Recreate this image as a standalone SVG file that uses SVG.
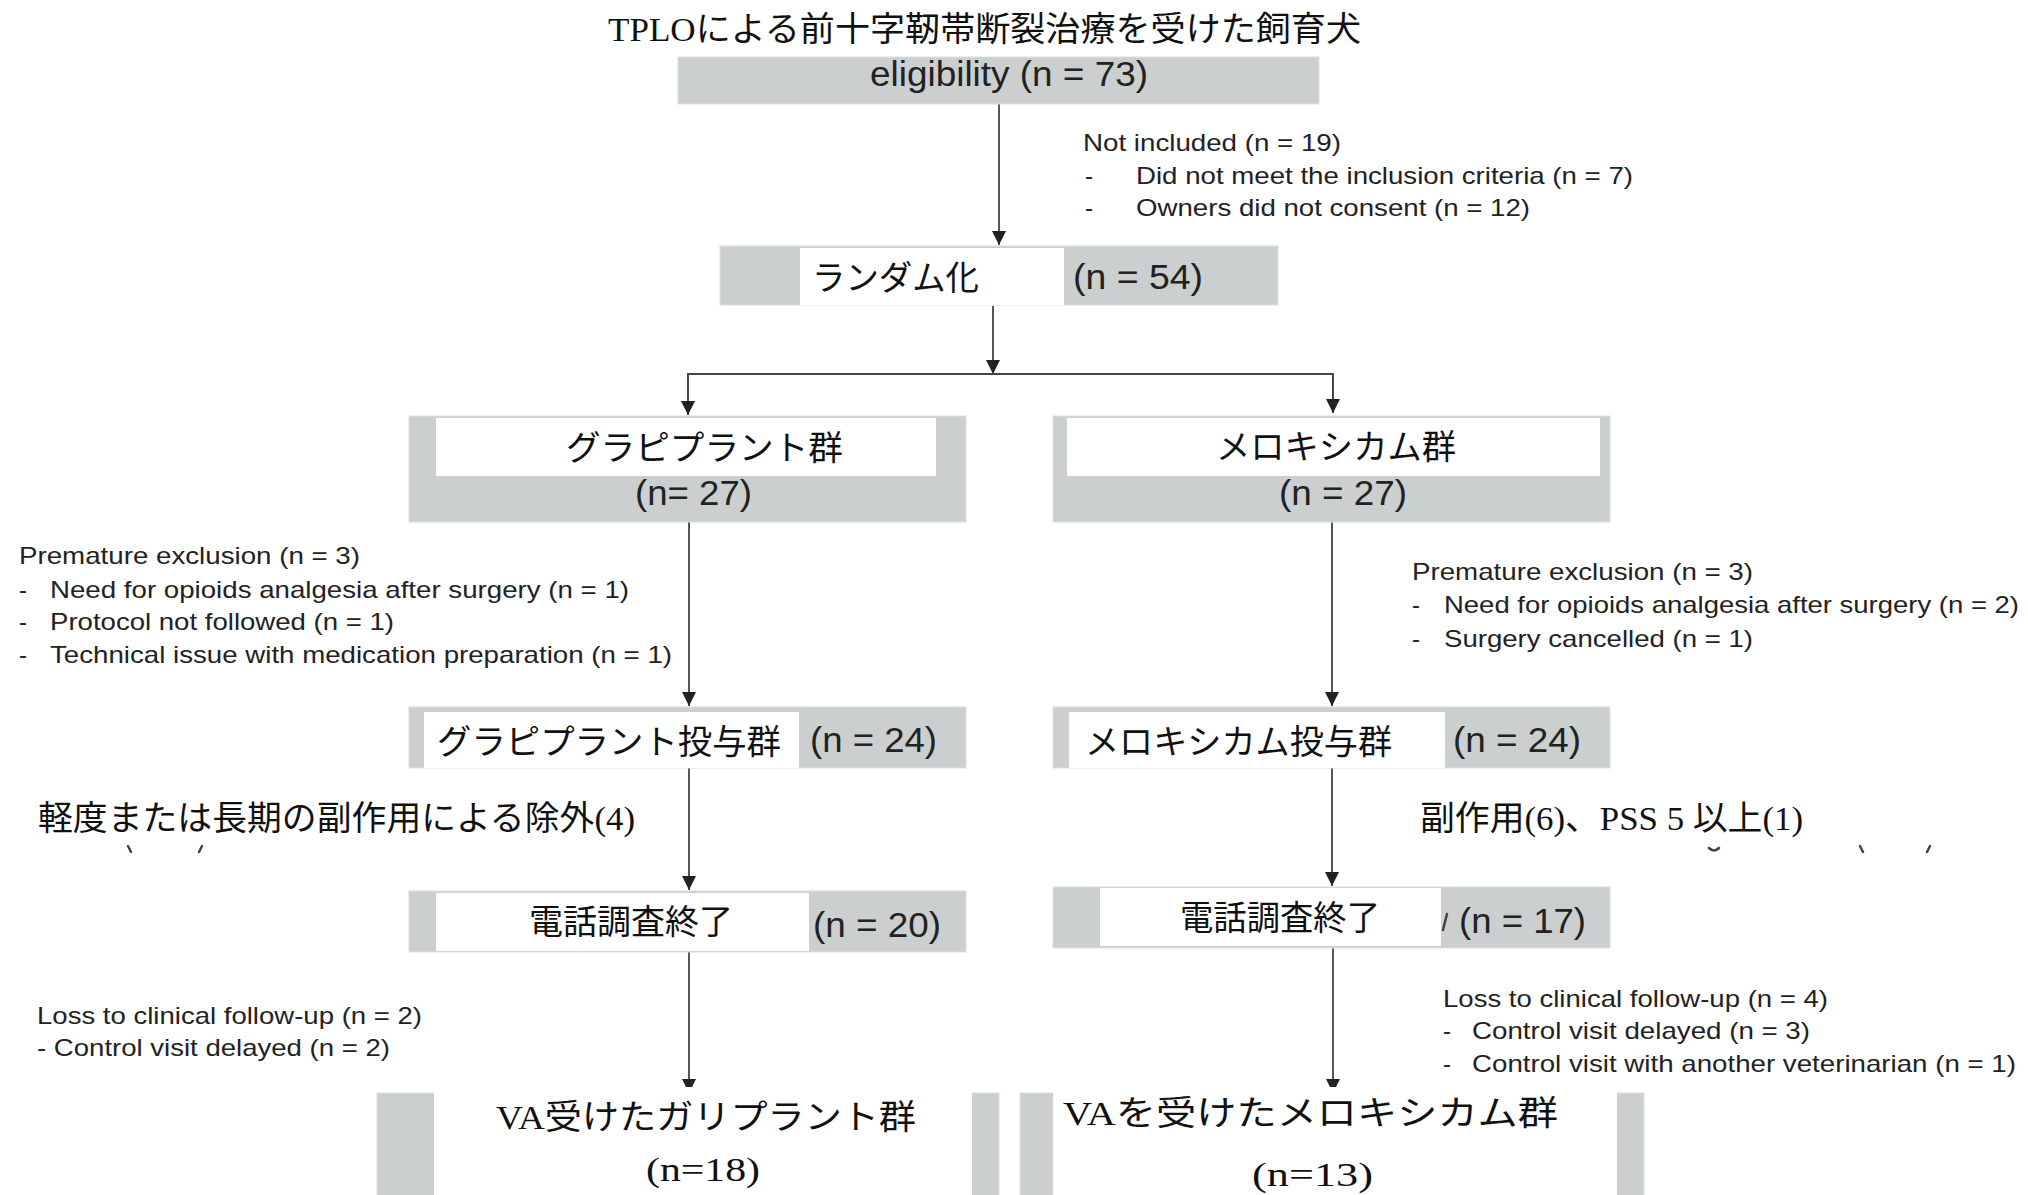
<svg xmlns="http://www.w3.org/2000/svg" width="2028" height="1195" viewBox="0 0 2028 1195">
<style>
.box{fill:#cbcfcf;stroke:#dcdfdf;stroke-width:1}
.inner{fill:#ffffff}
.en{font-family:"Liberation Sans",Arial,sans-serif;fill:#222;font-size:24px}
.num{font-family:"Liberation Sans",Arial,sans-serif;fill:#222;font-size:35px}
.jp{font-family:"Liberation Serif","Noto Sans CJK JP",serif;fill:#111;font-size:34px}
.link{stroke:#444;stroke-width:1.8;fill:none}
.frag{stroke:#444;stroke-width:2.5;fill:none;stroke-linecap:round}
</style>
<defs>
<marker id="arr" markerUnits="userSpaceOnUse" markerWidth="16" markerHeight="16" refX="14" refY="7" orient="auto">
<path d="M0,0 L14,7 L0,14 z" fill="#222"/>
</marker>
</defs>
<rect width="2028" height="1195" fill="#ffffff"/>

<text class="jp" x="608" y="41" textLength="753" lengthAdjust="spacingAndGlyphs">TPLOによる前十字靭帯断裂治療を受けた飼育犬</text>

<g id="connectors">
<line class="link" x1="999" y1="104" x2="999" y2="245" marker-end="url(#arr)"/>
<line class="link" x1="993" y1="306" x2="993" y2="374" marker-end="url(#arr)"/>
<polyline class="link" points="688,415 688,374 1333,374 1333,413"/>
<line class="link" x1="688" y1="374" x2="688" y2="415" marker-end="url(#arr)"/>
<line class="link" x1="1333" y1="374" x2="1333" y2="413" marker-end="url(#arr)"/>
<line class="link" x1="689" y1="522" x2="689" y2="706" marker-end="url(#arr)"/>
<line class="link" x1="1332" y1="522" x2="1332" y2="706" marker-end="url(#arr)"/>
<line class="link" x1="689" y1="768" x2="689" y2="890" marker-end="url(#arr)"/>
<line class="link" x1="1332" y1="768" x2="1332" y2="886" marker-end="url(#arr)"/>
<line class="link" x1="689" y1="952" x2="689" y2="1093" marker-end="url(#arr)"/>
<line class="link" x1="1333" y1="948" x2="1333" y2="1093" marker-end="url(#arr)"/>
</g>

<g id="eligibility">
<rect class="box" x="678" y="57" width="641" height="47"/>
<text class="num" x="1009" y="86" text-anchor="middle" textLength="278" lengthAdjust="spacingAndGlyphs">eligibility (n = 73)</text>
</g>

<g id="not-included">
<text class="en" x="1083" y="151" textLength="258" lengthAdjust="spacingAndGlyphs">Not included (n = 19)</text>
<text class="en" x="1085" y="184">-</text>
<text class="en" x="1136" y="184" textLength="497" lengthAdjust="spacingAndGlyphs">Did not meet the inclusion criteria (n = 7)</text>
<text class="en" x="1085" y="216">-</text>
<text class="en" x="1136" y="216" textLength="394" lengthAdjust="spacingAndGlyphs">Owners did not consent (n = 12)</text>
</g>

<g id="randomization">
<rect class="box" x="720" y="246" width="558" height="59"/>
<rect class="inner" x="800" y="248" width="264" height="57"/>
<text class="jp" x="812" y="290" textLength="167" lengthAdjust="spacingAndGlyphs">ランダム化</text>
<text class="num" x="1073" y="289" textLength="130" lengthAdjust="spacingAndGlyphs">(n = 54)</text>
</g>

<g id="grapiprant-group">
<rect class="box" x="409" y="416" width="557" height="106"/>
<rect class="inner" x="436" y="418" width="500" height="58"/>
<text class="jp" x="566" y="460" textLength="277" lengthAdjust="spacingAndGlyphs">グラピプラント群</text>
<text class="num" x="635" y="505" textLength="117" lengthAdjust="spacingAndGlyphs">(n= 27)</text>
</g>

<g id="meloxicam-group">
<rect class="box" x="1053" y="416" width="557" height="106"/>
<rect class="inner" x="1067" y="418" width="533" height="58"/>
<text class="jp" x="1216" y="459" textLength="240" lengthAdjust="spacingAndGlyphs">メロキシカム群</text>
<text class="num" x="1279" y="505" textLength="128" lengthAdjust="spacingAndGlyphs">(n = 27)</text>
</g>

<g id="premature-left">
<text class="en" x="19" y="564" textLength="341" lengthAdjust="spacingAndGlyphs">Premature exclusion (n = 3)</text>
<text class="en" x="19" y="598">-</text>
<text class="en" x="50" y="598" textLength="579" lengthAdjust="spacingAndGlyphs">Need for opioids analgesia after surgery (n = 1)</text>
<text class="en" x="19" y="630">-</text>
<text class="en" x="50" y="630" textLength="344" lengthAdjust="spacingAndGlyphs">Protocol not followed (n = 1)</text>
<text class="en" x="19" y="663">-</text>
<text class="en" x="50" y="663" textLength="622" lengthAdjust="spacingAndGlyphs">Technical issue with medication preparation (n = 1)</text>
</g>

<g id="premature-right">
<text class="en" x="1412" y="580" textLength="341" lengthAdjust="spacingAndGlyphs">Premature exclusion (n = 3)</text>
<text class="en" x="1412" y="613">-</text>
<text class="en" x="1444" y="613" textLength="575" lengthAdjust="spacingAndGlyphs">Need for opioids analgesia after surgery (n = 2)</text>
<text class="en" x="1412" y="647">-</text>
<text class="en" x="1444" y="647" textLength="309" lengthAdjust="spacingAndGlyphs">Surgery cancelled (n = 1)</text>
</g>

<g id="grapiprant-treated">
<rect class="box" x="409" y="707" width="557" height="61"/>
<rect class="inner" x="424" y="712" width="375" height="56"/>
<text class="jp" x="437" y="754" textLength="344" lengthAdjust="spacingAndGlyphs">グラピプラント投与群</text>
<text class="num" x="810" y="752" textLength="127" lengthAdjust="spacingAndGlyphs">(n = 24)</text>
</g>

<g id="meloxicam-treated">
<rect class="box" x="1053" y="707" width="557" height="61"/>
<rect class="inner" x="1069" y="712" width="376" height="56"/>
<text class="jp" x="1085" y="754" textLength="307" lengthAdjust="spacingAndGlyphs">メロキシカム投与群</text>
<text class="num" x="1453" y="752" textLength="128" lengthAdjust="spacingAndGlyphs">(n = 24)</text>
</g>

<g id="side-effects-left">
<text class="jp" x="38" y="830" textLength="597" lengthAdjust="spacingAndGlyphs">軽度または長期の副作用による除外(4)</text>
<path class="frag" d="M128,846 L131,852 M202,846 L199,852"/>
</g>

<g id="side-effects-right">
<text class="jp" x="1420" y="830" textLength="383" lengthAdjust="spacingAndGlyphs">副作用(6)、PSS 5 以上(1)</text>
<path class="frag" d="M1709,848 Q1714,853 1719,848 M1860,846 L1863,852 M1930,846 L1927,852"/>
</g>

<g id="phone-left">
<rect class="box" x="409" y="891" width="557" height="61"/>
<rect class="inner" x="436" y="893" width="373" height="58"/>
<text class="jp" x="529" y="934" textLength="204" lengthAdjust="spacingAndGlyphs">電話調査終了</text>
<text class="num" x="813" y="937" textLength="128" lengthAdjust="spacingAndGlyphs">(n = 20)</text>
</g>

<g id="phone-right">
<rect class="box" x="1053" y="887" width="557" height="61"/>
<rect class="inner" x="1100" y="888" width="341" height="58"/>
<text class="jp" x="1180" y="930" textLength="200" lengthAdjust="spacingAndGlyphs">電話調査終了</text>
<path class="frag" d="M1447,914 L1443,930"/>
<text class="num" x="1459" y="933" textLength="127" lengthAdjust="spacingAndGlyphs">(n = 17)</text>
</g>

<g id="loss-left">
<text class="en" x="37" y="1024" textLength="385" lengthAdjust="spacingAndGlyphs">Loss to clinical follow-up (n = 2)</text>
<text class="en" x="37" y="1056" textLength="353" lengthAdjust="spacingAndGlyphs">- Control visit delayed (n = 2)</text>
</g>

<g id="loss-right">
<text class="en" x="1443" y="1007" textLength="385" lengthAdjust="spacingAndGlyphs">Loss to clinical follow-up (n = 4)</text>
<text class="en" x="1443" y="1039">-</text>
<text class="en" x="1472" y="1039" textLength="338" lengthAdjust="spacingAndGlyphs">Control visit delayed (n = 3)</text>
<text class="en" x="1443" y="1072">-</text>
<text class="en" x="1472" y="1072" textLength="544" lengthAdjust="spacingAndGlyphs">Control visit with another veterinarian (n = 1)</text>
</g>

<g id="va-grapiprant">
<rect class="box" x="377" y="1093" width="622" height="110"/>
<rect class="inner" x="434" y="1087" width="538" height="115"/>
<text class="jp" x="496" y="1129" textLength="420" lengthAdjust="spacingAndGlyphs">VA受けたガリプラント群</text>
<text class="jp" x="646" y="1181" textLength="114" lengthAdjust="spacingAndGlyphs">(n=18)</text>
</g>

<g id="va-meloxicam">
<rect class="box" x="1020" y="1093" width="624" height="110"/>
<rect class="inner" x="1053" y="1087" width="564" height="115"/>
<text class="jp" x="1063" y="1125" font-size="36" textLength="495" lengthAdjust="spacingAndGlyphs">VAを受けたメロキシカム群</text>
<text class="jp" x="1252" y="1186" font-size="36" textLength="121" lengthAdjust="spacingAndGlyphs">(n=13)</text>
</g>
</svg>
